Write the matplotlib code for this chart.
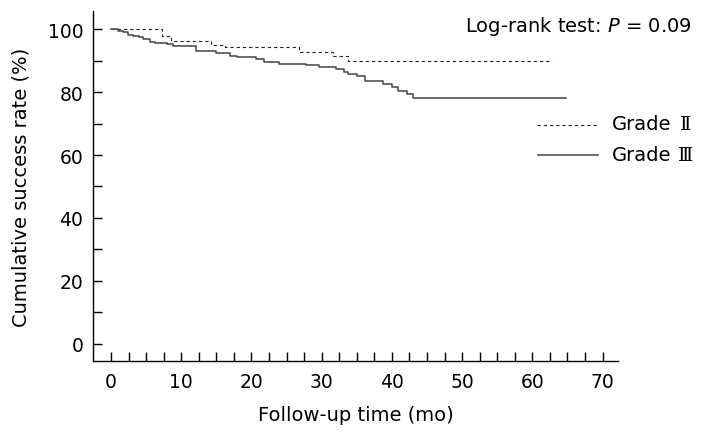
import matplotlib
matplotlib.use("Agg")
import matplotlib.pyplot as plt
from matplotlib.lines import Line2D

# Data (Kaplan-Meier steps)
grade2_times = [0, 7.2, 8.6, 14.2, 16.3, 26.8, 31.6, 33.7, 62.8]
grade2_surv = [100, 97.9, 96.3, 95.0, 94.4, 92.9, 91.5, 90.0, 90.0]

grade3_times = [0, 1.0, 1.7, 2.4, 3.2, 4.0, 4.6, 5.5, 6.2, 8.0, 8.8, 12.1, 14.9,
                16.9, 18.0, 20.6, 21.8, 23.9, 27.8, 29.6, 32.0, 33.2, 33.8, 35.0,
                36.2, 38.8, 40.0, 40.9, 42.1, 43.0, 64.8]
grade3_surv = [100, 99.5, 99.0, 98.2, 97.9, 97.4, 96.8, 96.1, 95.7, 95.2, 94.7, 93.1, 92.3,
               91.5, 91.1, 90.4, 89.6, 89.1, 88.5, 87.9, 87.2, 86.3, 85.7, 85.2,
               83.4, 82.5, 81.5, 80.4, 79.3, 78.0, 78.0]

x_major = [0, 10, 20, 30, 40, 50, 60, 70]
y_major = [0, 20, 40, 60, 80, 100]
series_labels = ["Grade", "Grade"]
numerals = ["\u2161", "\u2162"]

plt.rcParams['font.family'] = ['DejaVu Sans']

W, H = 706, 439
fig = plt.figure(figsize=(W / 100, H / 100), dpi=100)
ax = fig.add_axes([93 / W, 1 - 362 / H, (618 - 93) / W, (362 - 12) / H])

ax.plot(grade2_times, grade2_surv, drawstyle='steps-post', color='#222222',
        lw=0.8, linestyle=(0, (3, 2.6)))
ax.plot(grade3_times, grade3_surv, drawstyle='steps-post', color='#444444', lw=1.1)

ax.set_xlim(-2.56, 72.2)
ax.set_ylim(-5.5, 105.8)

ax.set_xticks([i * 2.5 for i in range(29)])
ax.set_xticklabels([str(int(v)) if v % 10 == 0 else '' for v in [i * 2.5 for i in range(29)]])
ax.set_yticks(list(range(0, 101, 10)))
ax.set_yticklabels([str(v) if v % 20 == 0 else '' for v in range(0, 101, 10)])

for s in ['top', 'right']:
    ax.spines[s].set_visible(False)
for s in ['left', 'bottom']:
    ax.spines[s].set_linewidth(1.0)
    ax.spines[s].set_color('black')

ax.tick_params(axis='both', direction='in', length=6.5, width=1.0, labelsize=13.5,
               colors='black')
ax.tick_params(axis='x', pad=8)
ax.tick_params(axis='y', pad=7)

ax.set_xlabel("Follow-up time (mo)", fontsize=14, labelpad=10)
ax.set_ylabel("Cumulative success rate (%)", fontsize=14, labelpad=12)

fig.text(692 / W, 1 - 27 / H, "Log-rank test: $P$ = 0.09", ha='right', va='center', fontsize=14)

# legend drawn manually
fig.add_artist(Line2D([537 / W, 598 / W], [1 - 125.5 / H] * 2, transform=fig.transFigure,
                      color='#222222', lw=0.8, linestyle=(0, (3, 2.6))))
fig.add_artist(Line2D([538 / W, 598 / W], [1 - 156 / H] * 2, transform=fig.transFigure,
                      color='#444444', lw=1.1))
for yy, lab, num in [(125, series_labels[0], numerals[0]), (156, series_labels[1], numerals[1])]:
    fig.text(612 / W, 1 - yy / H, lab, ha='left', va='center', fontsize=14)
    fig.text(686 / W, 1 - yy / H, num, ha='center', va='center', fontsize=14,
             family=['DejaVu Serif', 'DejaVu Sans'])

fig.savefig("out.png", dpi=100)
